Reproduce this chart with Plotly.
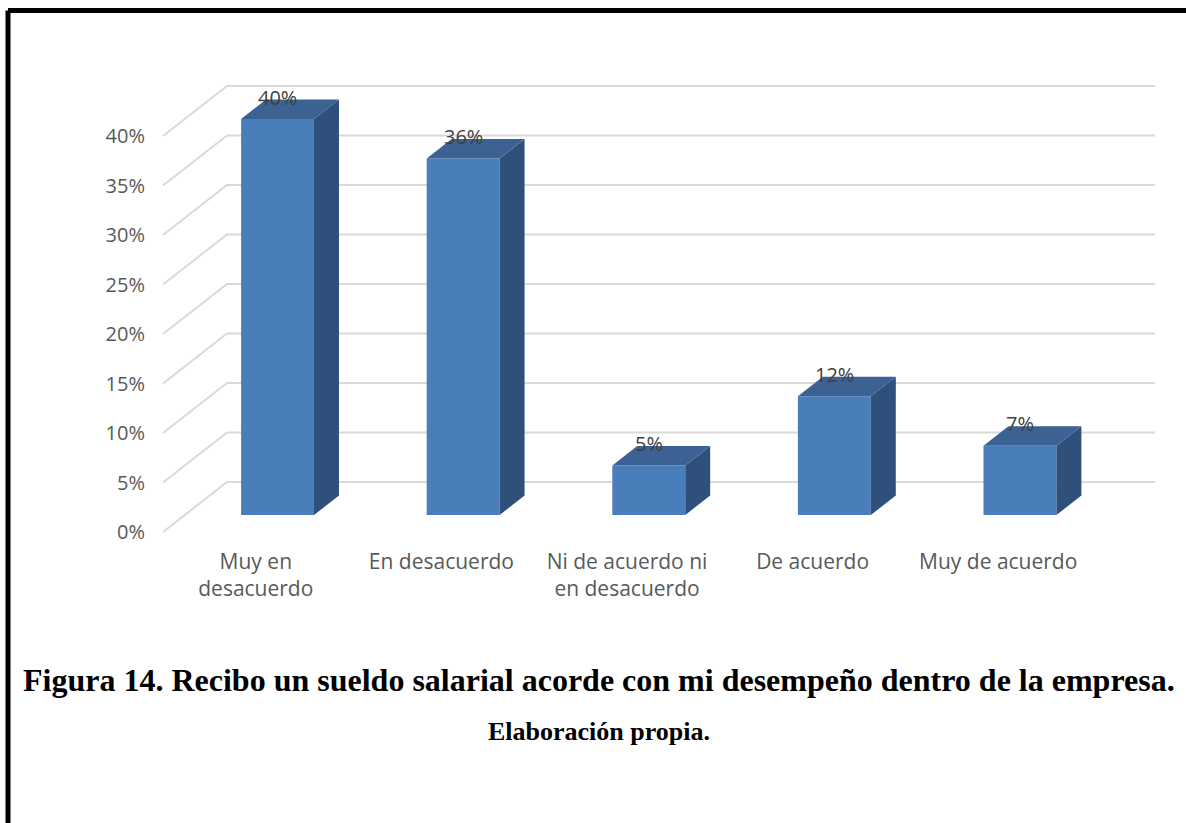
import plotly.graph_objects as go

# ---- data ----
categories = ["Muy en<br>desacuerdo", "En desacuerdo", "Ni de acuerdo ni<br>en desacuerdo",
              "De acuerdo", "Muy de acuerdo"]
values = [40, 36, 5, 12, 7]
y_ticks = [0, 5, 10, 15, 20, 25, 30, 35, 40]
y_tick_labels = [f"{v}%" for v in y_ticks]

title_text = "Figura 14. Recibo un sueldo salarial acorde con mi desempeño dentro de la empresa."
source_text = "Elaboración propia."

# ---- page geometry (pixels) ----
W, H = 1186, 823
ML, MR, MT = 150, 10, 40
PLOT_BOTTOM = 537
PX_X = 185.6          # pixels per category
PX_Y = 9.9            # pixels per percentage point
FRONT_LEFT_PX = 163   # pixel x of the front plane origin
FRONT_ZERO_PX = 532   # pixel y of 0% on the front plane

plot_w = W - ML - MR
plot_h = PLOT_BOTTOM - MT
x_min = -(FRONT_LEFT_PX - ML) / PX_X
x_max = x_min + plot_w / PX_X
y_max = (FRONT_ZERO_PX - MT) / PX_Y
y_min = y_max - plot_h / PX_Y

# 3D projection: depth 1 shifts right/up by these amounts (in axis units)
DX = 64 / PX_X
DY = 50 / PX_Y
D0, D1 = 0.34, 0.73   # bar depth span
BAR_W = 0.393

FRONT_C = "#4a7ebb"
SIDE_C = "#2f507a"
TOP_C = "#3b6292"
GRID_C = "#d9d9d9"
TEXT_C = "#595959"

n = len(categories)
fig = go.Figure()

# back wall gridlines and side wall diagonals
for v in y_ticks:
    fig.add_trace(go.Scatter(
        x=[0, DX, n + DX], y=[v, v + DY, v + DY], mode="lines",
        line=dict(color=GRID_C, width=2), hoverinfo="skip", showlegend=False))

def proj(x, y, d):
    return x + d * DX, y + d * DY

for i, v in enumerate(values):
    xl = i + 0.5 - BAR_W / 2
    xr = i + 0.5 + BAR_W / 2
    # front face
    pts = [proj(xl, 0, D0), proj(xr, 0, D0), proj(xr, v, D0), proj(xl, v, D0)]
    fig.add_trace(go.Scatter(x=[p[0] for p in pts], y=[p[1] for p in pts], fill="toself",
                             fillcolor=FRONT_C, line=dict(width=0), mode="lines",
                             hoverinfo="skip", showlegend=False))
    # right side face
    pts = [proj(xr, 0, D0), proj(xr, 0, D1), proj(xr, v, D1), proj(xr, v, D0)]
    fig.add_trace(go.Scatter(x=[p[0] for p in pts], y=[p[1] for p in pts], fill="toself",
                             fillcolor=SIDE_C, line=dict(width=0), mode="lines",
                             hoverinfo="skip", showlegend=False))
    # top face
    pts = [proj(xl, v, D0), proj(xr, v, D0), proj(xr, v, D1), proj(xl, v, D1)]
    fig.add_trace(go.Scatter(x=[p[0] for p in pts], y=[p[1] for p in pts], fill="toself",
                             fillcolor=TOP_C, line=dict(width=0), mode="lines",
                             hoverinfo="skip", showlegend=False))
    # value label
    lx, ly = proj(i + 0.5, v, D0)
    fig.add_annotation(x=lx, y=ly, text=f"{v}%", showarrow=False, yshift=22,
                       font=dict(family="Open Sans", size=20, color="#404040"))

def px_to_paper(px, py):
    return (px - ML) / plot_w, (PLOT_BOTTOM - py) / plot_h

# page frame (top and left edges)
x0, y0 = px_to_paper(8, 10.5)
x1, _ = px_to_paper(W + 10, 10.5)
_, y1 = px_to_paper(8, H + 10)
fig.add_shape(type="line", xref="paper", yref="paper", x0=x0, y0=y0, x1=x1, y1=y0,
              line=dict(color="black", width=5))
fig.add_shape(type="line", xref="paper", yref="paper", x0=x0, y0=y0, x1=x0, y1=y1,
              line=dict(color="black", width=5))

tx, ty = px_to_paper(599, 680)
fig.add_annotation(xref="paper", yref="paper", x=tx, y=ty, text=f"<b>{title_text}</b>",
                   showarrow=False, xanchor="center", yanchor="middle",
                   font=dict(family="Liberation Serif", size=32, color="black"))
sx, sy = px_to_paper(599, 731)
fig.add_annotation(xref="paper", yref="paper", x=sx, y=sy, text=f"<b>{source_text}</b>",
                   showarrow=False, xanchor="center", yanchor="middle",
                   font=dict(family="Liberation Serif", size=26, color="black"))

fig.update_layout(
    width=W, height=H,
    margin=dict(l=ML, r=MR, t=MT, b=H - PLOT_BOTTOM, pad=0),
    paper_bgcolor="white", plot_bgcolor="white",
    xaxis=dict(range=[x_min, x_max], showgrid=False, zeroline=False, showline=False,
               tickvals=[i + 0.5 for i in range(n)], ticktext=categories,
               tickfont=dict(family="Open Sans", size=21, color=TEXT_C), ticks="",
               ticklabelstandoff=10),
    yaxis=dict(range=[y_min, y_max], showgrid=False, zeroline=False, showline=False,
               tickvals=y_ticks, ticktext=y_tick_labels, ticks="",
               tickfont=dict(family="Open Sans", size=20, color=TEXT_C),
               ticklabelstandoff=4),
)

fig.write_html("out.html")
